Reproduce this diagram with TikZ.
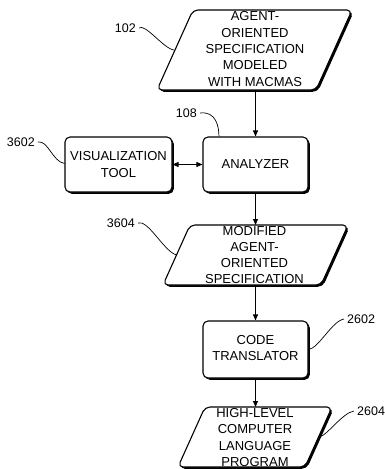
\documentclass[tikz,border=0pt]{standalone}
\usepackage{fontspec}
\setmainfont{Liberation Sans}
\usetikzlibrary{shadows,arrows.meta,calc}
\begin{document}
\begin{tikzpicture}[x=1pt,y=-1pt,
  boxshadow/.style={drop shadow={shadow xshift=1.8pt,shadow yshift=-1.8pt,fill=black,opacity=1}},
  procbox/.style={draw,line width=1.1pt,rounded corners=5pt,fill=white,boxshadow,inner sep=0pt},
  frame/.style={inner sep=0pt,outer sep=0pt},
  datapath/.style={draw,line width=1.1pt,rounded corners=5pt,fill=white,boxshadow},
  txt/.style={align=center,inner sep=0pt,font=\fontsize{13}{16.3}\selectfont},
  lbl/.style={inner sep=0pt,font=\fontsize{12.5}{14}\selectfont},
  leader/.style={line width=0.7pt},
  flow/.style={line width=0.8pt,-{Triangle[length=6pt,width=5pt]}},
  both/.style={line width=0.8pt,{Triangle[length=6pt,width=5pt]}-{Triangle[length=6pt,width=5pt]}}
]
\useasboundingbox (0,0) rectangle (385,469);

% data shapes (parallelograms) drawn around named frames
\node[frame,minimum width=195pt,minimum height=80pt] (spec) at (254.5,50) {};
\path[datapath] (spec.south west) -- ($(spec.south east)+(-36,0)$) -- (spec.north east)
  -- ($(spec.north west)+(36,0)$) -- cycle;
\node[txt] (spectxt) at (255,49) {AGENT-\\ORIENTED\\SPECIFICATION\\MODELED\\WITH MACMAS};

\node[procbox,minimum width=105pt,minimum height=55pt] (analyzer) at (255.5,164.5) {};
\node[txt] (analyzertxt) at (analyzer) {ANALYZER};

\node[procbox,minimum width=107pt,minimum height=55pt] (vis) at (118.5,164.5) {};
\node[txt] (vistxt) at (vis) {VISUALIZATION\\TOOL};

\node[frame,minimum width=185pt,minimum height=60pt] (modspec) at (255.5,255) {};
\path[datapath] (modspec.south west) -- ($(modspec.south east)+(-27,0)$) -- (modspec.north east)
  -- ($(modspec.north west)+(27,0)$) -- cycle;
\node[txt] (modspectxt) at (254.5,255) {MODIFIED\\AGENT-\\ORIENTED\\SPECIFICATION};

\node[procbox,minimum width=105pt,minimum height=57pt] (code) at (255.5,349.5) {};
\node[txt] (codetxt) at (255.5,348) {CODE\\TRANSLATOR};

\node[frame,minimum width=154pt,minimum height=60pt] (hll) at (255,437) {};
\path[datapath] (hll.south west) -- ($(hll.south east)+(-27,0)$) -- (hll.north east)
  -- ($(hll.north west)+(27,0)$) -- cycle;
\node[txt] (hlltxt) at (255,437.5) {HIGH-LEVEL\\COMPUTER\\LANGUAGE\\PROGRAM};

% flow connectors
\draw[flow] (spec.south -| analyzer.north) -- (analyzer.north);
\draw[both] (vis.east) -- (analyzer.west);
\draw[flow] (analyzer.south) -- (analyzer.south |- modspec.north);
\draw[flow] (modspec.south -| code.north) -- (code.north);
\draw[flow] (code.south) -- (code.south |- hll.north);

% reference labels
\node[lbl,anchor=east] (l102) at (136,28) {102};
\node[lbl,anchor=east] (l108) at (197,113) {108};
\node[lbl,anchor=east] (l3602) at (35,142) {3602};
\node[lbl,anchor=east] (l3604) at (135,223) {3604};
\node[lbl,anchor=west] (l2602) at (347,319) {2602};
\node[lbl,anchor=west] (l2604) at (357,411) {2604};

\coordinate (c102) at ($(spec.west)+(17,0)$);
\coordinate (c108) at ($(analyzer.north west)+(16.5,0)$);
\coordinate (c3602) at ($(vis.west)+(0,-1)$);
\coordinate (c3604) at ($(modspec.west)+(14,0)$);
\coordinate (c2604) at ($(hll.east)+(-13,0)$);

\draw[leader] ([xshift=3pt]l102.east) .. controls +(6,-5) and +(-10,-1) .. (c102);
\draw[leader] ([xshift=3pt]l108.east) .. controls +(16,-2) and +(0,-10) .. (c108);
\draw[leader] ([xshift=3pt]l3602.east) .. controls +(10,-2) and +(-12,-2) .. (c3602);
\draw[leader] ([xshift=3pt]l3604.east) .. controls +(10,-4) and +(-12,-2) .. (c3604);
\draw[leader] ([xshift=-3pt]l2602.west) .. controls +(-12,2) and +(10,-1) .. (code.east);
\draw[leader] ([xshift=-3pt]l2604.west) .. controls +(-12,2) and +(8,-1) .. (c2604);
\end{tikzpicture}
\end{document}
